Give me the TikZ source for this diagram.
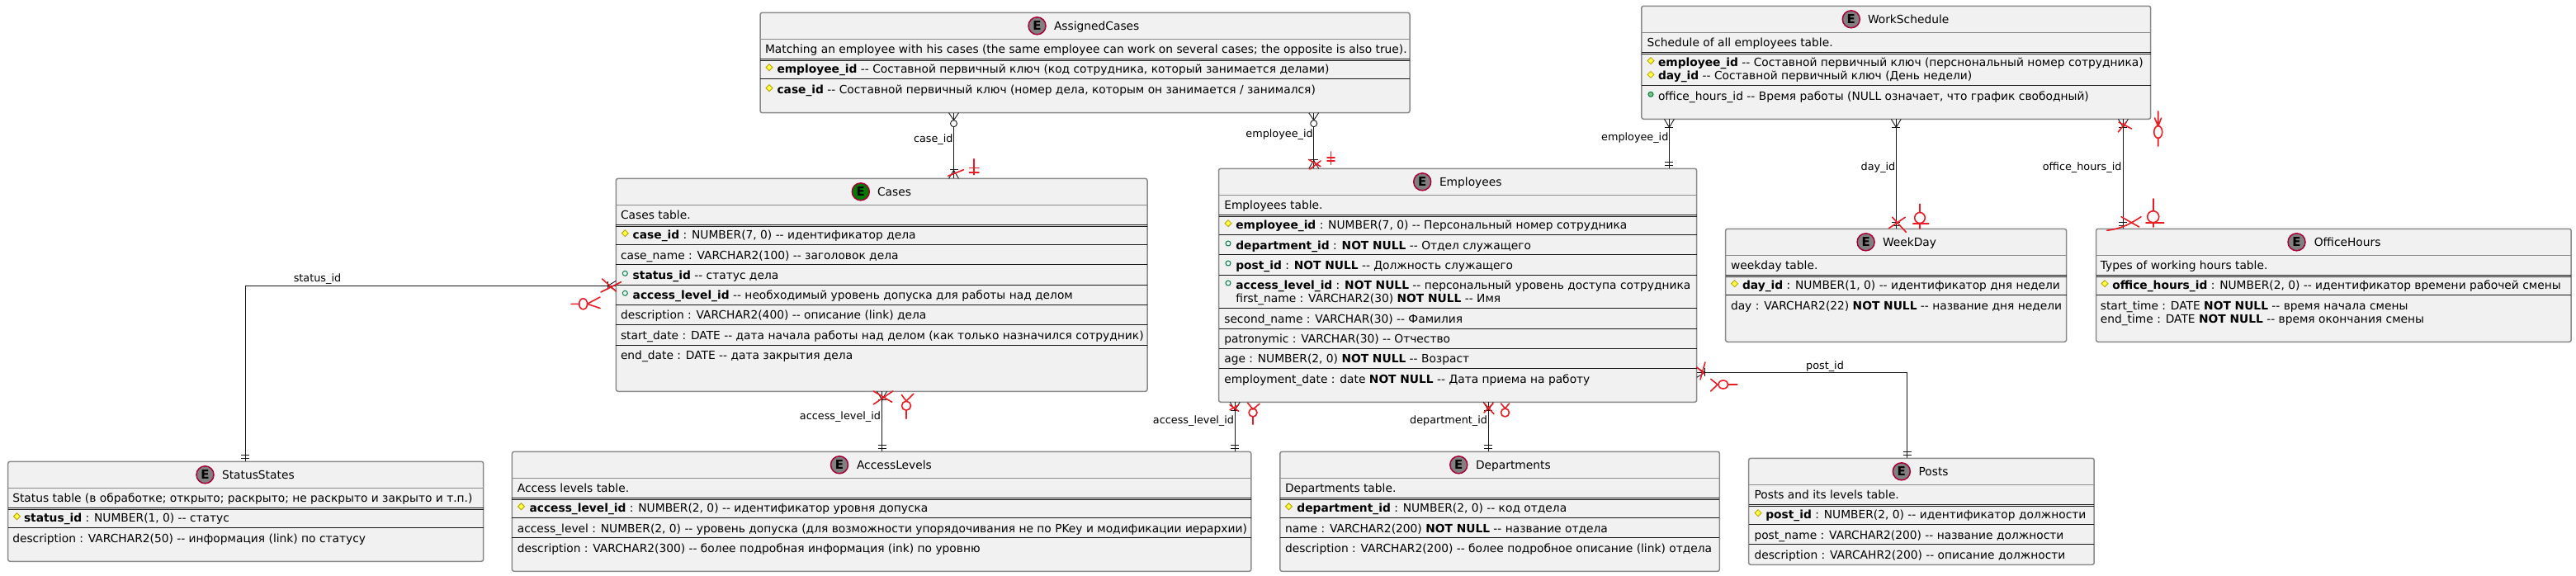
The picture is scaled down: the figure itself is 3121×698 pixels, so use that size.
\documentclass[tikz,border=0pt]{standalone}
\usepackage{fontspec}
\setmainfont{DejaVu Sans}
\definecolor{boxfill}{HTML}{F1F1F1}
\definecolor{boxline}{HTML}{8A8A8A}
\definecolor{inkline}{HTML}{181818}
\definecolor{entcrim}{HTML}{A80036}
\definecolor{entgrey}{HTML}{808080}
\definecolor{entgreen}{HTML}{007A00}
\definecolor{keyfill}{HTML}{FFFF44}
\definecolor{keyline}{HTML}{B8A000}
\definecolor{optline}{HTML}{038048}
\definecolor{optfill}{HTML}{84BE84}
\definecolor{penred}{HTML}{ED1C24}
\tikzset{
  entbox/.style={draw=boxline,fill=boxfill,line width=1.5pt,rounded corners=2.5pt,inner sep=0pt,outer sep=0pt},
  titlerule/.style={draw=boxline,line width=1.5pt},
  rowrule/.style={draw=inkline,line width=1.3pt},
  rowtext/.style={anchor=base west,inner sep=0pt,outer sep=0pt,text=black,font=\fontsize{13.8}{16}\selectfont},
  linktext/.style={inner sep=0pt,outer sep=0pt,text=black,font=\fontsize{12.8}{15}\selectfont},
  entcircle/.style={circle,draw=entcrim,line width=1.5pt,minimum size=21pt,inner sep=0pt,font=\fontsize{15}{16}\selectfont\bfseries,text=black},
  link/.style={draw=inkline,line width=.9pt},
  keymark/.style={draw=keyline,fill=keyfill,line width=.8pt},
  optmark/.style={draw=optline,fill=boxfill,line width=1pt},
  optfull/.style={draw=optline,fill=optfill,line width=1pt},
  penmark/.style={draw=penred,line width=1.6pt,line cap=round,line join=round},
}
\newcommand{\dsh}{-\kern0pt-}
\newcommand{\entity}[9]{%
  % name, x1,y1,x2,y2, circle x, title x, title, circle colour
  \node[entbox,minimum width={(#4-#2)*1pt},minimum height={(#5-#3)*1pt}] (#1) at ({(#2+#4)/2},{(#3+#5)/2}) {};
  \node[entcircle,fill=#9] (#1-e) at (#6,{#3+16}) {E};
  \node[rowtext] (#1-t) at (#7,{#3+21}) {#8};
  \draw[titlerule] (#1.west |- 0,{#3+32}) -- (#1.east |- 0,{#3+32});
  \draw[rowrule] (#1.west |- 0,{#3+56.4}) -- (#1.east |- 0,{#3+56.4});
  \draw[rowrule] (#1.west |- 0,{#3+58.4}) -- (#1.east |- 0,{#3+58.4});
}
\newcommand{\rowline}[2]{\draw[rowrule] (#1.west |- 0,#2) -- (#1.east |- 0,#2);}
\newcommand{\rowt}[4]{\node[rowtext] (#1) at (#2,{#3+5}) {#4};}
\newcommand{\keym}[2]{\path[keymark] (#1,{#2-5.6}) -- ({#1+4},{#2-1.6}) -- (#1,{#2+2.4}) -- ({#1-4},{#2-1.6}) -- cycle;}
\newcommand{\optm}[2]{\path[optmark] (#1,{#2-2}) circle (3);}
\newcommand{\optf}[2]{\path[optfull] (#1,{#2-2}) circle (3);}
\newcommand{\footdown}[1]{%
  \draw[link] ([shift={(-6,0)}]#1) -- ([shift={(0,10)}]#1) -- ([shift={(6,0)}]#1);
  \draw[link] ([shift={(-5,10)}]#1) -- ([shift={(5,10)}]#1);}
\newcommand{\zerodown}[1]{%
  \draw[link] ([shift={(-6,0)}]#1) -- ([shift={(0,9)}]#1) -- ([shift={(6,0)}]#1);
  \draw[link,fill=white] ([shift={(0,13)}]#1) circle (4);}
\newcommand{\footup}[1]{%
  \draw[link] ([shift={(-6,0)}]#1) -- ([shift={(0,-10)}]#1) -- ([shift={(6,0)}]#1);
  \draw[link] ([shift={(-5,-11)}]#1) -- ([shift={(5,-11)}]#1);}
\newcommand{\onlyone}[1]{%
  \draw[link] ([shift={(-5,-4)}]#1) -- ([shift={(5,-4)}]#1);
  \draw[link] ([shift={(-5,-8)}]#1) -- ([shift={(5,-8)}]#1);}
\begin{document}
\begin{tikzpicture}[x=1pt,y=-1pt]
\path[fill=white,use as bounding box] (0,0) rectangle (3121,698);

% AssignedCases
\entity{ac}{921}{15.3}{1708}{136.7}{1256.5}{1277}{AssignedCases}{entgrey}
\rowline{ac}{95.3}
\rowt{ac1}{927}{59.3}{Matching an employee with his cases (the same employee can work on several cases; the opposite is also true).}
\keym{932}{83.3}
\rowt{ac2}{941.5}{83.3}{\textbf{employee\_id} \dsh{} Составной первичный ключ (код сотрудника, который занимается делами)}
\keym{932}{108.3}
\rowt{ac3}{941.5}{108.3}{\textbf{case\_id} \dsh{} Составной первичный ключ (номер дела, которым он занимается / занимался)}

% Cases
\entity{cs}{746.4}{216.3}{1390}{474.3}{1042.8}{1063}{Cases}{entgreen}
\rowline{cs}{296.3}\rowline{cs}{320.3}\rowline{cs}{345.3}\rowline{cs}{369.3}\rowline{cs}{393.3}\rowline{cs}{418.3}
\rowt{cs1}{752}{260.3}{Cases table.}
\keym{757.3}{284.3}
\rowt{cs2}{766.7}{284.3}{\textbf{case\_id} : NUMBER(7, 0) \dsh{} идентификатор дела}
\rowt{cs3}{752}{309.3}{case\_name : VARCHAR2(100) \dsh{} заголовок дела}
\optm{757.3}{333.3}
\rowt{cs4}{766.7}{333.3}{\textbf{status\_id} \dsh{} статус дела}
\optm{757.3}{357.3}
\rowt{cs5}{766.7}{357.3}{\textbf{access\_level\_id} \dsh{} необходимый уровень допуска для работы над делом}
\rowt{cs6}{752}{381.3}{description : VARCHAR2(400) \dsh{} описание (link) дела}
\rowt{cs7}{752}{406.3}{start\_date : DATE \dsh{} дата начала работы над делом (как только назначился сотрудник)}
\rowt{cs8}{752}{430.3}{end\_date : DATE \dsh{} дата закрытия дела}

% Employees
\entity{em}{1476.5}{204.3}{2055.7}{487.3}{1723.2}{1744}{Employees}{entgrey}
\rowline{em}{284.3}\rowline{em}{308.3}\rowline{em}{333.3}\rowline{em}{373.3}\rowline{em}{398.3}\rowline{em}{422.3}\rowline{em}{446.3}
\rowt{em1}{1483.3}{248.3}{Employees table.}
\keym{1488}{272.3}
\rowt{em2}{1497.3}{272.3}{\textbf{employee\_id} : NUMBER(7, 0) \dsh{} Персональный номер сотрудника}
\optm{1488}{297}
\rowt{em3}{1497.3}{297}{\textbf{department\_id} : \textbf{NOT NULL} \dsh{} Отдел служащего}
\optm{1488}{321}
\rowt{em4}{1497.3}{321}{\textbf{post\_id} : \textbf{NOT NULL} \dsh{} Должность служащего}
\optm{1488}{345}
\rowt{em5}{1497.3}{345}{\textbf{access\_level\_id} : \textbf{NOT NULL} \dsh{} персональный уровень доступа сотрудника}
\rowt{em6}{1497.3}{361}{first\_name : VARCHAR2(30) \textbf{NOT NULL} \dsh{} Имя}
\rowt{em7}{1483.3}{386}{second\_name : VARCHAR(30) \dsh{} Фамилия}
\rowt{em8}{1483.3}{410}{patronymic : VARCHAR(30) \dsh{} Отчество}
\rowt{em9}{1483.3}{434}{age : NUMBER(2, 0) \textbf{NOT NULL} \dsh{} Возраст}
\rowt{em10}{1483.3}{459}{employment\_date : date \textbf{NOT NULL} \dsh{} Дата приема на работу}

% WorkSchedule
\entity{ws}{1988.8}{7.3}{2605.7}{144.3}{2242.8}{2263}{WorkSchedule}{entgrey}
\rowline{ws}{103.3}
\rowt{ws1}{1995.6}{51.3}{Schedule of all employees table.}
\keym{2000}{75.3}
\rowt{ws2}{2009}{75.3}{\textbf{employee\_id} \dsh{} Составной первичный ключ (перснональный номер сотрудника)}
\keym{2000}{92}
\rowt{ws3}{2009}{92}{\textbf{day\_id} \dsh{} Составной первичный ключ (День недели)}
\optf{2000}{116.3}
\rowt{ws4}{2009}{116.3}{office\_hours\_id \dsh{} Время работы (NULL означает, что график свободный)}

% WeekDay
\entity{wd}{2090.6}{277.3}{2503.6}{414.3}{2260.6}{2281}{WeekDay}{entgrey}
\rowline{wd}{357.3}
\rowt{wd1}{2097}{321.3}{weekday table.}
\keym{2101.5}{345.3}
\rowt{wd2}{2111}{345.3}{\textbf{day\_id} : NUMBER(1, 0) \dsh{} идентификатор дня недели}
\rowt{wd3}{2097}{370.3}{day : VARCHAR2(22) \textbf{NOT NULL} \dsh{} название дня недели}

% OfficeHours
\entity{oh}{2539.5}{277.3}{3115.2}{414.3}{2782.5}{2803.8}{OfficeHours}{entgrey}
\rowline{oh}{357.3}
\rowt{oh1}{2544.8}{321.3}{Types of working hours table.}
\keym{2550}{345.3}
\rowt{oh2}{2559.4}{345.3}{\textbf{office\_hours\_id} : NUMBER(2, 0) \dsh{} идентификатор времени рабочей смены}
\rowt{oh3}{2544.8}{370.3}{start\_time : DATE \textbf{NOT NULL} \dsh{} время начала смены}
\rowt{oh4}{2544.8}{386.3}{end\_time : DATE \textbf{NOT NULL} \dsh{} время окончания смены}

% StatusStates
\entity{st}{9.7}{559.3}{585.7}{680.3}{248.5}{269}{StatusStates}{entgrey}
\rowline{st}{639.3}
\rowt{st1}{15.3}{603.3}{Status table (в обработке; открыто; раскрыто; не раскрыто и закрыто и т.п.)}
\keym{20.5}{627.3}
\rowt{st2}{29}{627.3}{\textbf{status\_id} : NUMBER(1, 0) \dsh{} статус}
\rowt{st3}{15.3}{652.3}{description : VARCHAR2(50) \dsh{} информация (link) по статусу}

% AccessLevels
\entity{al}{620.4}{547.3}{1515.8}{692.3}{1017}{1038}{AccessLevels}{entgrey}
\rowline{al}{627.3}\rowline{al}{651.3}
\rowt{al1}{626.8}{591.3}{Access levels table.}
\keym{631.5}{615.3}
\rowt{al2}{641.5}{615.3}{\textbf{access\_level\_id} : NUMBER(2, 0) \dsh{} идентификатор уровня допуска}
\rowt{al3}{626.8}{640.3}{access\_level : NUMBER(2, 0) \dsh{} уровень допуска (для возможности упорядочивания не по PKey и модификации иерархии)}
\rowt{al4}{626.8}{664.3}{description : VARCHAR2(300) \dsh{} более подробная информация (ink) по уровню}

% Departments
\entity{dp}{1550.8}{547.3}{2083.4}{692.3}{1767.3}{1788}{Departments}{entgrey}
\rowline{dp}{627.3}\rowline{dp}{651.3}
\rowt{dp1}{1557}{591.3}{Departments table.}
\keym{1561.5}{615.3}
\rowt{dp2}{1571.4}{615.3}{\textbf{department\_id} : NUMBER(2, 0) \dsh{} код отдела}
\rowt{dp3}{1557}{640.3}{name : VARCHAR2(200) \textbf{NOT NULL} \dsh{} название отдела}
\rowt{dp4}{1557}{664.3}{description : VARCHAR2(200) \dsh{} более подробное описание (link) отдела}

% Posts
\entity{ps}{2118.6}{555.3}{2537.2}{684.3}{2303.8}{2324.5}{Posts}{entgrey}
\rowline{ps}{635.3}\rowline{ps}{659.3}
\rowt{ps1}{2125.5}{599.3}{Posts and its levels table.}
\keym{2130}{623.3}
\rowt{ps2}{2139.3}{623.3}{\textbf{post\_id} : NUMBER(2, 0) \dsh{} идентификатор должности}
\rowt{ps3}{2125.5}{648.3}{post\_name : VARCHAR2(200) \dsh{} название должности}
\rowt{ps4}{2125.5}{672.3}{description : VARCAHR2(200) \dsh{} описание должности}

% connectors
\coordinate (xcase) at (1155.5,0);
\draw[link] (ac.south -| xcase) -- (cs.north -| xcase);
\zerodown{ac.south -| xcase}
\footup{cs.north -| xcase}
\node[linktext,anchor=base east] (lcase) at (1154.5,172) {case\_id};

\coordinate (xemp) at (1591.7,0);
\draw[link] (ac.south -| xemp) -- (em.north -| xemp);
\zerodown{ac.south -| xemp}
\footup{em.north -| xemp}
\node[linktext,anchor=base east] (lemp) at (1590.7,166.5) {employee\_id};

\coordinate (xwse) at (2022.4,0);
\draw[link] (ws.south -| xwse) -- (em.north -| xwse);
\footdown{ws.south -| xwse}
\onlyone{em.north -| xwse}
\node[linktext,anchor=base east] (lwse) at (2021.4,170.2) {employee\_id};

\coordinate (xday) at (2297.3,0);
\draw[link] (ws.south -| xday) -- (wd.north -| xday);
\footdown{ws.south -| xday}
\onlyone{wd.north -| xday}
\node[linktext,anchor=base east] (lday) at (2296.3,206.8) {day\_id};

\coordinate (xoff) at (2572.4,0);
\draw[link] (ws.south -| xoff) -- (oh.north -| xoff);
\footdown{ws.south -| xoff}
\onlyone{oh.north -| xoff}
\node[linktext,anchor=base east] (loff) at (2570.4,206.8) {office\_hours\_id};

\coordinate (cstat) at (297.4,346.3);
\draw[link] (cs.west |- cstat) -- (cstat) -- (st.north -| cstat);
\draw[link] ([shift={(0,-6)}]cs.west |- cstat) -- ([shift={(-10,0)}]cs.west |- cstat) -- ([shift={(0,6)}]cs.west |- cstat);
\draw[link] ([shift={(-10,-5)}]cs.west |- cstat) -- ([shift={(-10,5)}]cs.west |- cstat);
\onlyone{st.north -| cstat}
\node[linktext,anchor=base] (lstat) at (384.5,341.5) {status\_id};

\coordinate (xal1) at (1068.5,0);
\draw[link] (cs.south -| xal1) -- (al.north -| xal1);
\footdown{cs.south -| xal1}
\onlyone{al.north -| xal1}
\node[linktext,anchor=base east] (lal1) at (1067,508) {access\_level\_id};

\coordinate (xal2) at (1496.2,0);
\draw[link] (em.south -| xal2) -- (al.north -| xal2);
\footdown{em.south -| xal2}
\onlyone{al.north -| xal2}
\node[linktext,anchor=base east] (lal2) at (1495,513.3) {access\_level\_id};

\coordinate (xdep) at (1803.3,0);
\draw[link] (em.south -| xdep) -- (dp.north -| xdep);
\footdown{em.south -| xdep}
\onlyone{dp.north -| xdep}
\node[linktext,anchor=base east] (ldep) at (1802,513.3) {department\_id};

\coordinate (cpost) at (2310.7,451.3);
\draw[link] (em.east |- cpost) -- (cpost) -- (ps.north -| cpost);
\draw[link] ([shift={(0,-6)}]em.east |- cpost) -- ([shift={(10,0)}]em.east |- cpost) -- ([shift={(0,6)}]em.east |- cpost);
\draw[link] ([shift={(10,-5)}]em.east |- cpost) -- ([shift={(10,5)}]em.east |- cpost);
\onlyone{ps.north -| cpost}
\node[linktext,anchor=base] (lpost) at (2211,447) {post\_id};

% red pen marks
\draw[penmark] (1148.6,213.3) -- (1167.5,205.7);
\draw[penmark] (1180,192.7) -- (1180,211.7) (1174.4,203.3) -- (1186,203.3) (1174.4,209) -- (1186,209);

\draw[penmark] (1585.5,193.3) -- (1600,201.7) (1587,205) -- (1600,195);
\draw[penmark] (1612.4,184) -- (1612.4,199.3) (1608,190.7) -- (1617,190.7) (1608,195) -- (1617,195);

\draw[penmark] (729.6,338) -- (746.4,353) (728,354) -- (752.5,341.7);
\draw[penmark] (692,368.3) -- (702,368.3) (711.5,368.3) -- (727,360) (711.5,368.3) -- (727,373.5);
\draw[penmark] (706.6,368.3) ellipse (5 and 6.5);

\draw[penmark] (1058.3,474) -- (1070,481) -- (1080.7,487.3) (1058.3,490) -- (1081.7,474);
\draw[penmark] (1092.3,478.3) -- (1098,486) -- (1106.7,477.3) (1098,497) -- (1098,507.3);
\draw[penmark] (1098,491.7) ellipse (5.5 and 5.5);

\draw[penmark] (1490,490.7) -- (1500.7,498.3) (1490,496.7) -- (1500.7,490.7);
\draw[penmark] (1511.7,488.3) -- (1518,496) -- (1526,489.3) (1518,505) -- (1518,514.3);
\draw[penmark] (1518,500) ellipse (5 and 5);

\draw[penmark] (1797.9,488.3) -- (1810,501.7) (1797.9,500) -- (1809,489);
\draw[penmark] (1818.5,489) -- (1823.5,495) -- (1828.5,489);
\draw[penmark] (1823.5,500) ellipse (5 and 5);

\draw[penmark] (2065.9,439) -- (2060,460) (2055.7,445) -- (2065,453);
\draw[penmark] (2072.7,459.3) -- (2081,466) -- (2072.7,474) (2094,466) -- (2104.7,466);
\draw[penmark] (2087.7,466) ellipse (6 and 5);

\draw[penmark] (2288.3,276.7) -- (2308.3,263.3) (2292.7,263.3) -- (2309.3,281.3);
\draw[penmark] (2326,247.3) -- (2326,257.5) (2317.7,270.7) -- (2336.7,270.7) (2326,270.7) -- (2326,277.3);
\draw[penmark] (2326,264) ellipse (6.3 and 6.5);

\draw[penmark] (2552.7,279.3) .. controls (2570,277) and (2580,272) .. (2594,262.7) (2570,262.7) -- (2591.7,275);
\draw[penmark] (2608.7,241) -- (2608.7,255.7) (2600,270) -- (2621.7,270) (2608.7,270) -- (2608.7,275);
\draw[penmark] (2608.7,262.7) ellipse (7 and 7);

\draw[penmark] (2566.3,160) -- (2576,148) (2567,148) -- (2582.6,156) ;
\draw[penmark] (2614.7,135) -- (2614.7,152) (2610.5,143) -- (2614.7,153) -- (2618.5,143) (2614.7,167) -- (2614.7,177);
\draw[penmark] (2614.7,160) ellipse (5 and 7.5);
\end{tikzpicture}
\end{document}
